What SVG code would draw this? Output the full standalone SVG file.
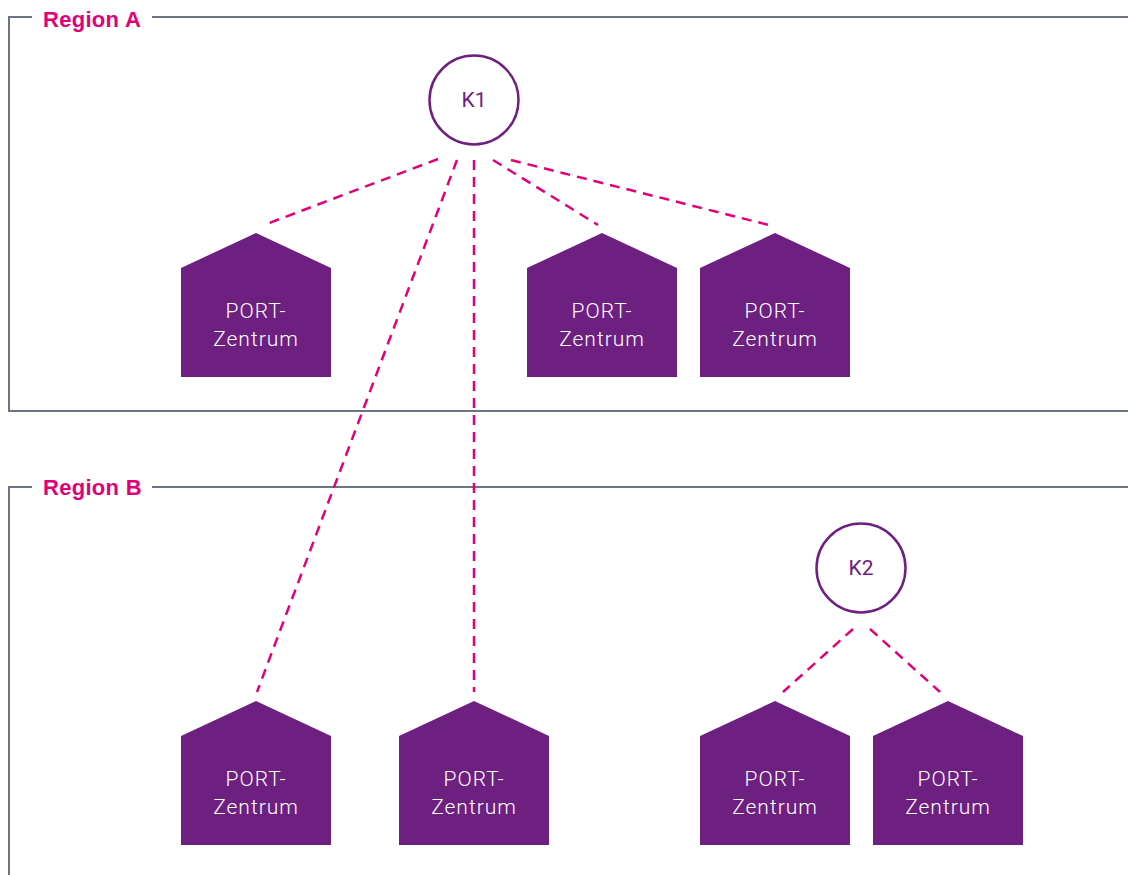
<svg xmlns="http://www.w3.org/2000/svg" width="1128" height="875" viewBox="0 0 1128 875">
<style>
.frame{fill:none;stroke:#6b7480;stroke-width:2}
.rlabel{font-family:"Liberation Sans",Arial,sans-serif;font-weight:bold;font-size:22px;fill:#e2007a;letter-spacing:0.3px}
.house{fill:#6d2080}
.htext{font-family:Roboto,"Liberation Sans",sans-serif;font-weight:300;font-size:21px;fill:#ffffff;text-anchor:middle;letter-spacing:1px}
.hub{fill:#ffffff;stroke:#6d2080;stroke-width:2.5}
.hubtext{font-family:Roboto,"Liberation Sans",sans-serif;font-weight:400;font-size:21px;fill:#6d2080;text-anchor:middle}
.conn{fill:none;stroke:#e2007a;stroke-width:2.5;stroke-dasharray:10 7}
</style>
<defs>
<g id="houseShape">
<path d="M-75 35 L0 0 L75 35 L75 144 L-75 144 Z"/>
</g>
</defs>
<g id="regionA">
<path class="frame" d="M32 17 H9 V411 H1128"/>
<path class="frame" d="M152 17 H1128"/>
<text class="rlabel" x="43" y="27">Region A</text>
</g>
<g id="regionB">
<path class="frame" d="M32 487 H9 V875"/>
<path class="frame" d="M152 487 H1128"/>
<text class="rlabel" x="43" y="495">Region B</text>
</g>
<g id="connectors">
<line class="conn" x1="438" y1="159" x2="264" y2="225"/>
<line class="conn" x1="457" y1="160" x2="257" y2="692"/>
<line class="conn" x1="474" y1="160" x2="474" y2="692"/>
<line class="conn" x1="493" y1="160" x2="598" y2="225"/>
<line class="conn" x1="511" y1="160" x2="769" y2="225"/>
<line class="conn" x1="853" y1="629" x2="783" y2="692"/>
<line class="conn" x1="870" y1="629" x2="940" y2="692"/>
</g>
<g id="K1">
<circle class="hub" cx="474" cy="100" r="44.5"/>
<text class="hubtext" x="474" y="107">K1</text>
</g>
<g id="K2">
<circle class="hub" cx="861" cy="568" r="44.5"/>
<text class="hubtext" x="861" y="575">K2</text>
</g>
<g id="portA1">
<use href="#houseShape" class="house" x="256" y="233"/>
<text class="htext" x="256" y="318">PORT-</text>
<text class="htext" x="256" y="346">Zentrum</text>
</g>
<g id="portA2">
<use href="#houseShape" class="house" x="602" y="233"/>
<text class="htext" x="602" y="318">PORT-</text>
<text class="htext" x="602" y="346">Zentrum</text>
</g>
<g id="portA3">
<use href="#houseShape" class="house" x="775" y="233"/>
<text class="htext" x="775" y="318">PORT-</text>
<text class="htext" x="775" y="346">Zentrum</text>
</g>
<g id="portB1">
<use href="#houseShape" class="house" x="256" y="701"/>
<text class="htext" x="256" y="786">PORT-</text>
<text class="htext" x="256" y="814">Zentrum</text>
</g>
<g id="portB2">
<use href="#houseShape" class="house" x="474" y="701"/>
<text class="htext" x="474" y="786">PORT-</text>
<text class="htext" x="474" y="814">Zentrum</text>
</g>
<g id="portB3">
<use href="#houseShape" class="house" x="775" y="701"/>
<text class="htext" x="775" y="786">PORT-</text>
<text class="htext" x="775" y="814">Zentrum</text>
</g>
<g id="portB4">
<use href="#houseShape" class="house" x="948" y="701"/>
<text class="htext" x="948" y="786">PORT-</text>
<text class="htext" x="948" y="814">Zentrum</text>
</g>
</svg>
